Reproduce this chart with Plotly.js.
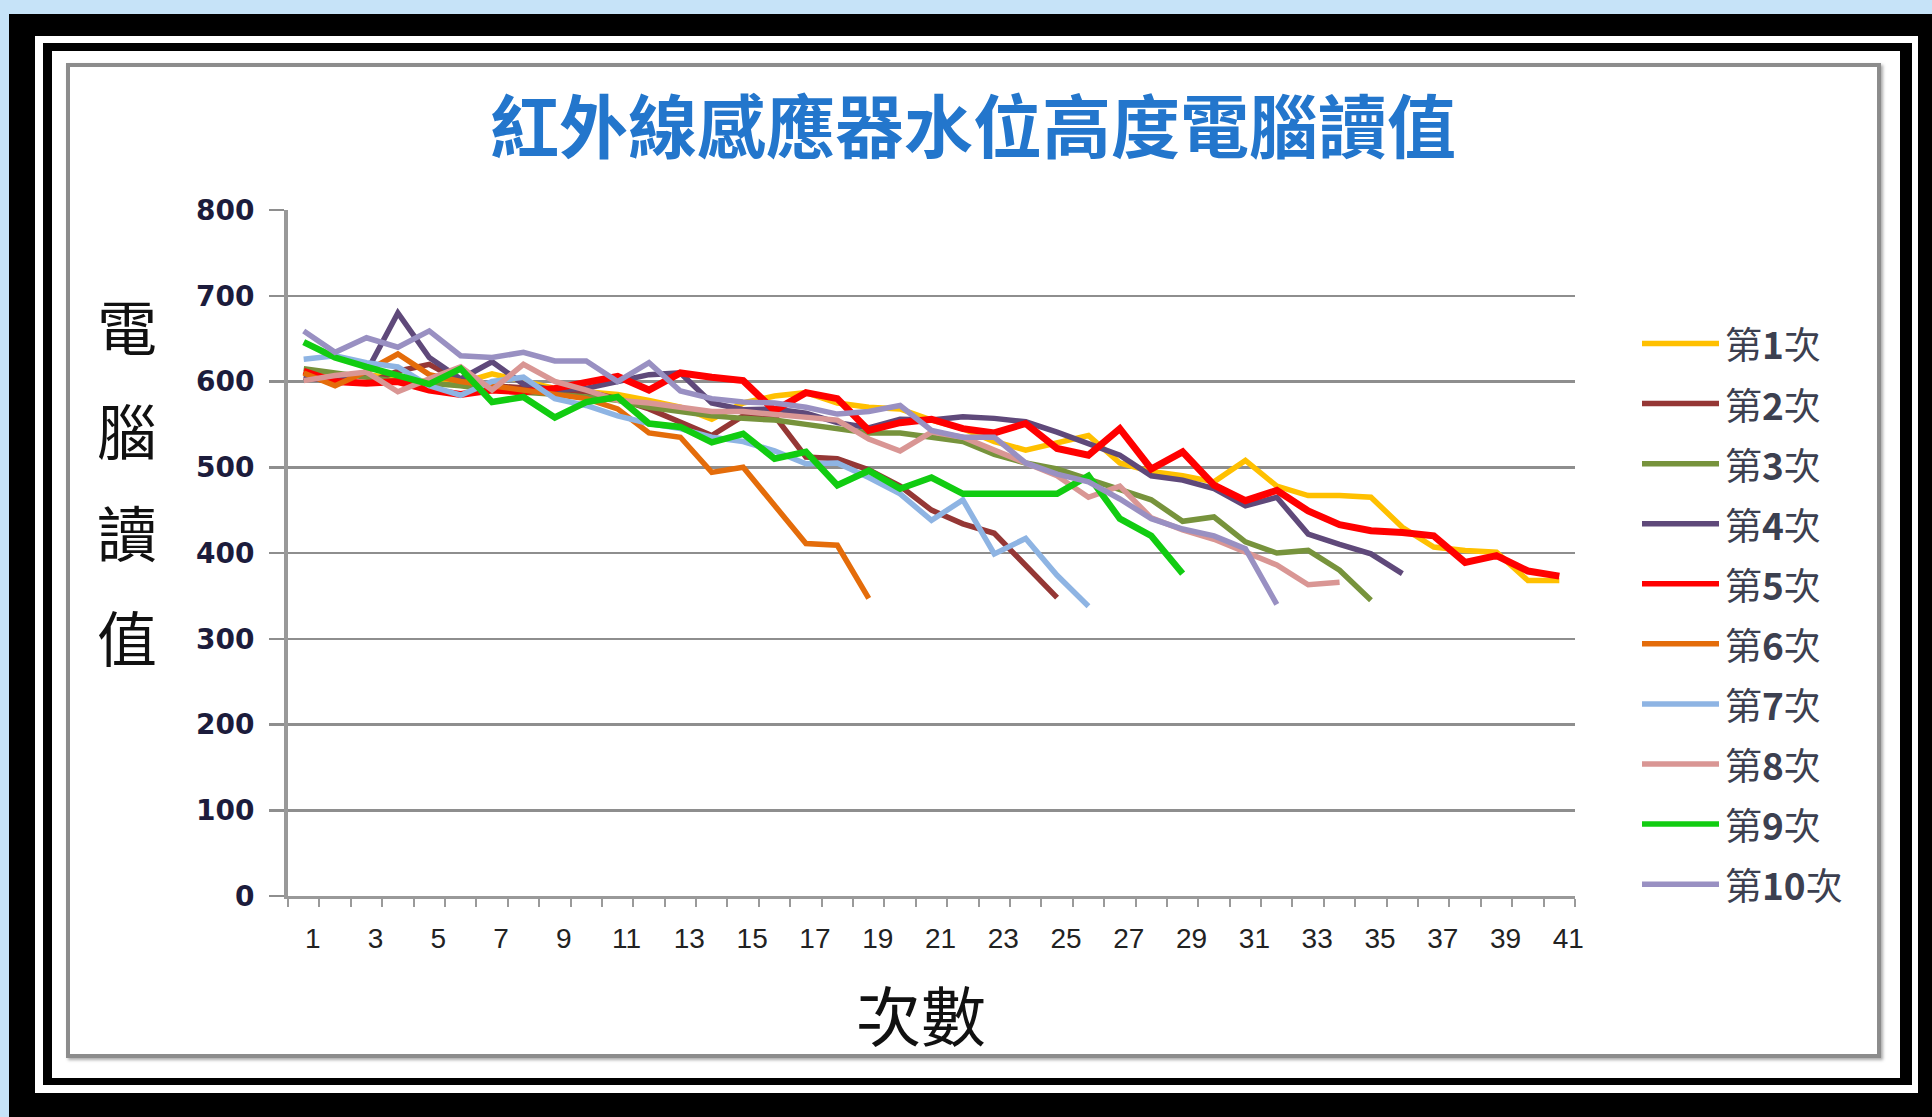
<!DOCTYPE html>
<html><head><meta charset="utf-8">
<script src="https://cdn.plot.ly/plotly-3.0.1.min.js"></script>
<style>
html,body{margin:0;padding:0;background:#c6e3f8;width:1932px;height:1117px;overflow:hidden;}
.f{position:absolute;box-sizing:border-box;}
</style></head><body>
<div class="f" style="left:9px;top:14px;width:1923px;height:1103px;background:#000"></div>
<div class="f" style="left:35px;top:36px;width:1883px;height:1057px;background:#fff"></div>
<div class="f" style="left:43px;top:43px;width:1869px;height:1042px;background:#000"></div>
<div class="f" style="left:52px;top:51px;width:1848px;height:1027px;background:#fff"></div>
<div class="f" style="left:66px;top:63px;width:1815px;height:995px;background:#fff;border:4px solid #8c8c8c;box-shadow:2px 2px 3px #aaa"></div>
<div id="chart" style="position:absolute;left:0;top:0;width:1932px;height:1117px"></div>
<script>
// ---- data ----
const chartTitle = '紅外線感應器水位高度電腦讀值';
const xTitle = '次數';
const yTitleChars = ['電', '腦', '讀', '值'];
const categories = [1,2,3,4,5,6,7,8,9,10,11,12,13,14,15,16,17,18,19,20,21,22,23,24,25,26,27,28,29,30,31,32,33,34,35,36,37,38,39,40,41];
const xTickVals = [1,3,5,7,9,11,13,15,17,19,21,23,25,27,29,31,33,35,37,39,41];
const xTickText = ['1','3','5','7','9','11','13','15','17','19','21','23','25','27','29','31','33','35','37','39','41'];
const yTickVals = [0,100,200,300,400,500,600,700,800];
const seriesNames = ['第1次','第2次','第3次','第4次','第5次','第6次','第7次','第8次','第9次','第10次'];
const run1 = [610,605,608,603,600,598,609,600,592,588,585,578,570,556,575,583,587,575,570,568,555,545,530,520,528,537,505,495,490,483,508,478,467,467,465,430,407,403,401,368,368];
const run2 = [605,600,598,612,620,600,595,592,590,588,580,568,553,537,560,560,512,510,497,478,450,434,423,385,348];
const run3 = [615,610,605,600,598,595,590,588,585,582,578,570,565,560,557,555,550,545,540,540,535,530,515,505,498,486,475,462,437,442,413,400,403,380,345];
const run4 = [605,600,611,680,628,603,623,597,590,592,600,608,610,575,567,568,563,552,546,556,555,559,557,553,541,527,514,490,485,475,455,465,422,410,399,376];
const run5 = [612,600,598,600,590,585,590,588,592,598,606,590,610,605,601,566,587,580,543,552,556,545,540,551,522,514,545,498,518,479,461,473,449,433,426,424,420,389,397,379,373];
const run6 = [610,595,612,632,608,600,595,590,585,580,568,540,535,494,500,455,411,409,347];
const run7 = [626,630,622,617,595,584,600,605,580,572,560,551,545,535,530,519,504,505,488,469,438,462,399,417,374,338];
const run8 = [601,607,611,588,603,617,590,620,600,590,578,575,570,565,565,562,558,555,533,519,541,535,520,505,490,465,478,441,427,416,401,386,363,366];
const run9 = [646,628,617,607,597,615,576,582,558,576,582,551,547,529,539,510,518,479,496,475,488,469,469,469,469,490,440,420,376];
const run10 = [659,634,651,640,659,630,628,634,624,624,600,622,589,580,576,575,570,562,565,572,543,535,535,505,492,483,463,440,428,420,405,340];
const seriesValues = [run1, run2, run3, run4, run5, run6, run7, run8, run9, run10];
const seriesColors = ['#FFC000','#953735','#77933C','#5F497A','#FF0000','#E46C0A','#8EB4E3','#D99694','#11CC11','#9990C2'];
const seriesWidths = [5.5,5.5,5.5,5.5,7,5.5,5.5,5.5,6.5,5.5];

// ---- layout geometry (pixels) ----
const W = 1932, H = 1117;
const ml = 288, mr = W - 1575, mt = 209.5, mb = H - 895.7;
const pw = W - ml - mr, ph = H - mt - mb;
const px = x => (x - ml) / pw;
const py = y => 1 - (y - mt) / ph;

const traces = seriesValues.map((vals, k) => ({
  type: 'scatter', mode: 'lines', name: seriesNames[k],
  x: categories.slice(0, vals.length), y: vals,
  line: {color: seriesColors[k], width: seriesWidths[k], shape: 'linear'},
  showlegend: false, hoverinfo: 'x+y+name'
}));

const shapes = [];
const annotations = [];
// custom legend
seriesNames.forEach((nm, k) => {
  const yy = 343 + k * 60.1;
  shapes.push({type: 'line', xref: 'paper', yref: 'paper', x0: px(1642), x1: px(1719), y0: py(yy), y1: py(yy),
    line: {color: seriesColors[k], width: 5.5}});
  const num = nm.replace('第', '').replace('次', '');
  annotations.push({xref: 'paper', yref: 'paper', x: px(1723), y: py(yy), xanchor: 'left', yanchor: 'middle',
    text: '第<b>' + num + '</b>次', showarrow: false,
    font: {family: 'Noto Sans CJK TC', size: 37, color: '#3c4050'}});
});
// y title stacked characters
const yTitleY = [324, 428, 530, 635];
yTitleChars.forEach((ch, k) => {
  annotations.push({xref: 'paper', yref: 'paper', x: px(127), y: py(yTitleY[k]), xanchor: 'center', yanchor: 'middle',
    text: ch, showarrow: false, font: {family: 'Noto Sans CJK TC', size: 60, color: '#111'}});
});
// x title
annotations.push({xref: 'paper', yref: 'paper', x: px(921), y: py(1013), xanchor: 'center', yanchor: 'middle',
  text: xTitle, showarrow: false, font: {family: 'Noto Sans CJK TC', size: 65, color: '#111'}});

const layout = {
  width: W, height: H,
  margin: {l: ml, r: mr, t: mt, b: mb, pad: 0},
  paper_bgcolor: 'rgba(0,0,0,0)', plot_bgcolor: '#ffffff',
  title: {text: chartTitle, xref: 'container', yref: 'container', x: 973 / W, y: 1 - 129 / H,
    xanchor: 'center', yanchor: 'middle',
    font: {family: 'Noto Sans CJK TC', size: 69, color: '#2376cc', weight: 'bold'}},
  xaxis: {
    range: [0.5, 41.5], tickmode: 'array', tickvals: xTickVals, ticktext: xTickText,
    showgrid: false, zeroline: false, showline: true, linecolor: '#999999', linewidth: 3,
    ticks: 'outside', ticklen: 8, tickcolor: 'rgba(0,0,0,0)', ticklabelstandoff: 7, ticklabelshift: 9,
    tickfont: {family: 'Liberation Sans, Arial, sans-serif', size: 28, color: '#222'},
    minor: {tick0: 0.5, dtick: 1, ticks: 'outside', ticklen: 8, tickwidth: 2, tickcolor: '#9a9a9a', showgrid: false}
  },
  yaxis: {
    range: [0, 800], tickmode: 'array', tickvals: yTickVals,
    showgrid: true, gridcolor: '#8e8e8e', gridwidth: 2.5, zeroline: false,
    showline: true, linecolor: '#999999', linewidth: 4,
    ticks: 'outside', ticklen: 15, tickwidth: 2.5, tickcolor: '#8e8e8e', ticklabelstandoff: 9,
    tickfont: {family: 'DejaVu Sans, Verdana, sans-serif', size: 28, color: '#1c1c3c', weight: 'bold'}
  },
  shapes: shapes, annotations: annotations, showlegend: false
};
Plotly.newPlot('chart', traces, layout, {displayModeBar: false, staticPlot: true});
</script>
</body></html>
